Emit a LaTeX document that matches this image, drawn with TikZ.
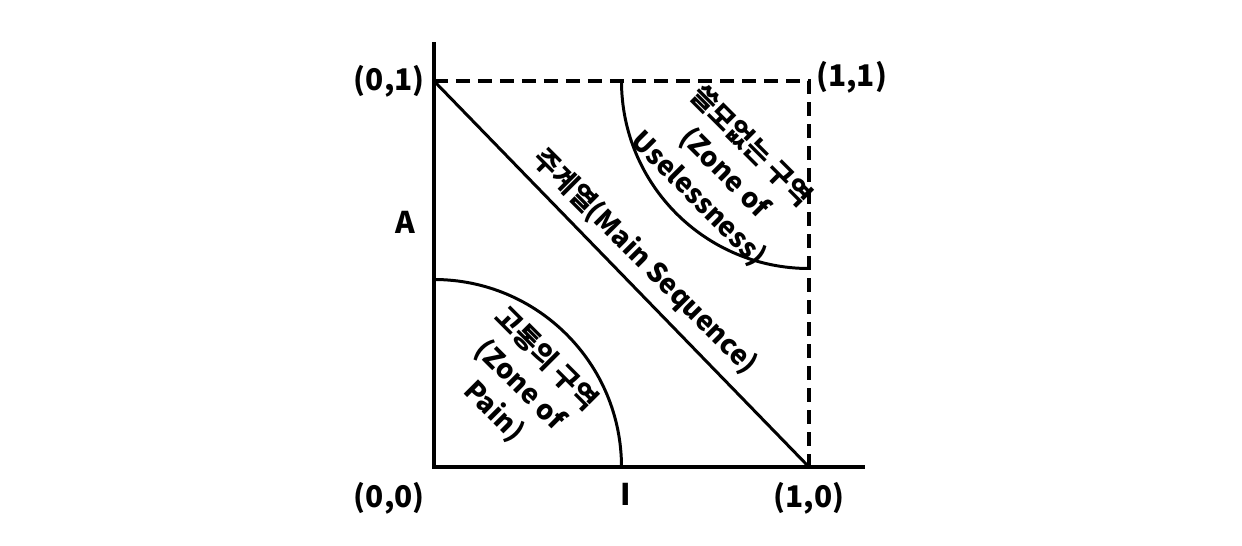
\documentclass[tikz,border=0pt]{standalone}
\usepackage{fontspec}
\setmainfont{Noto Sans CJK KR}
\usetikzlibrary{positioning}

\begin{document}
\begin{tikzpicture}[
    x=7.5cm, y=7.72cm,
    axis/.style={line width=2.2pt},
    bound/.style={line width=2pt, dash pattern=on 0.28cm off 0.16cm},
    zone/.style={line width=1.7pt},
    lbl/.style={font=\bfseries\fontsize{17}{20}\selectfont, inner sep=0pt},
    tag/.style={font=\bfseries\fontsize{15.5}{21}\selectfont, align=center,
                rotate=-45, inner sep=0pt}
  ]
  \useasboundingbox (-8.68cm,-1.56cm) rectangle (16.16cm,9.34cm);

  \coordinate (O)    at (0,0);
  \coordinate (X)    at (1,0);
  \coordinate (Y)    at (0,1);
  \coordinate (XY)   at (1,1);
  \coordinate (xend) at (1.15,0);
  \coordinate (yend) at (0,1.10);
  \coordinate (Ipos) at (0.51,0);
  \coordinate (Apos) at (0,0.635);

  % axes and bounds
  \draw[axis]  (yend) -- (O) -- (xend);
  \draw[bound] (Y) -- (XY) -- (X);

  % main sequence and zones
  \draw[zone] (Y) -- (X);
  \draw[zone] (O) ++(0,3.75cm) arc[start angle=90, end angle=0, radius=3.75cm];
  \draw[zone] (XY) ++(-3.75cm,0) arc[start angle=180, end angle=270, radius=3.75cm];

  % corner labels
  \node[lbl, below left=0.3cm and 0.18cm of O, anchor=north east] (l00) {(0,0)};
  \node[lbl, below=0.3cm of X]                (l10) {(1,0)};
  \node[lbl, left=0.18cm of Y]                (l01) {(0,1)};
  \node[lbl, right=0.14cm of XY, yshift=2pt]  (l11) {(1,1)};
  \node[lbl, below=0.32cm of Ipos]            (lI)  {I};
  \node[lbl, left=0.36cm of Apos]             (lA)  {A};

  % zone names
  \node[tag] (seq)  at (0.563,0.531) {주계열(Main Sequence)};
  \node[tag] (usel) at (0.775,0.762) {쓸모없는 구역\\(Zone of\\Uselessness)};
  \node[tag] (pain) at (0.229,0.212) {고통의 구역\\(Zone of\\Pain)};
\end{tikzpicture}
\end{document}
